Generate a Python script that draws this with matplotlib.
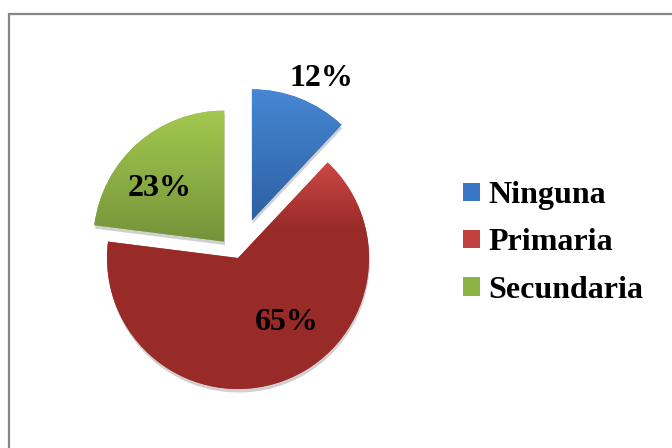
import numpy as np
import matplotlib
matplotlib.use("Agg")
import matplotlib.pyplot as plt
from matplotlib.patches import Patch, Rectangle
from matplotlib.colors import to_rgb
import matplotlib.patheffects as pe

categories = ["Ninguna", "Primaria", "Secundaria"]
values = [12, 65, 23]
top_colors = ["#4787d4", "#cc4744", "#a3c84f"]
bottom_colors = ["#2d60a2", "#982b28", "#74933a"]
legend_colors = ["#3a76c6", "#c0403d", "#8cb444"]

W, H = 672, 448
explode = [39, 1.5, 20]          # pixels
dark_reach = [1.0, 0.3, 1.0]
label_pos = [(321, 78), (287, 322), (160, 188)]  # pixel (x, y from top)

fig = plt.figure(figsize=(6.72, 4.48), dpi=100)
ax = fig.add_axes([0, 0, 1, 1])
center = (237.5, H - 256.6)
R = 131
wedges, _ = ax.pie(values, startangle=90, counterclock=False, explode=explode,
                   center=center, radius=R, colors=legend_colors,
                   wedgeprops=dict(linewidth=0))

for w, c0, c1, dr in zip(wedges, top_colors, bottom_colors, dark_reach):
    w.set_path_effects([pe.SimplePatchShadow(offset=(0.5, -2.5), shadow_rgbFace="#7a7a7a", alpha=0.35),
                        pe.Normal()])
    ext = w.get_path().get_extents()
    n = 256
    t = np.linspace(0, 1, n)
    s = np.clip(t / dr, 0, 1)
    img = (1 - s)[:, None] * np.array(to_rgb(c0)) + s[:, None] * np.array(to_rgb(c1))
    img = img[:, None, :]
    im = ax.imshow(img, extent=(ext.x0, ext.x1, ext.y0, ext.y1), origin="upper",
                   aspect="auto", zorder=w.get_zorder() + 0.1, interpolation="bilinear")
    im.set_clip_path(w)

for v, (px, py) in zip(values, label_pos):
    ax.text(px, H - py, f"{v}%", ha="center", va="center",
            family="Liberation Serif", weight="bold", fontsize=23, color="black", zorder=5)

handles = [Patch(facecolor=c, edgecolor="none", label=l) for c, l in zip(legend_colors, categories)]
ax.legend(handles=handles, loc="center left", bbox_to_anchor=(463 / W, 1 - 243 / H),
          bbox_transform=fig.transFigure, frameon=False,
          prop=dict(family="Liberation Serif", weight="bold", size=23),
          handlelength=0.52, handleheight=0.52, handletextpad=0.28, labelspacing=0.57,
          borderpad=0, borderaxespad=0)

ax.set_xlim(0, W)
ax.set_ylim(0, H)
ax.set_aspect("equal")
ax.axis("off")

fig.patches.append(Rectangle((8.5 / W, -0.2), 1.2, 1 - 13.5 / H + 0.2, transform=fig.transFigure,
                             fill=False, edgecolor="#878787", linewidth=1.6))

fig.savefig("out.png", dpi=100)
